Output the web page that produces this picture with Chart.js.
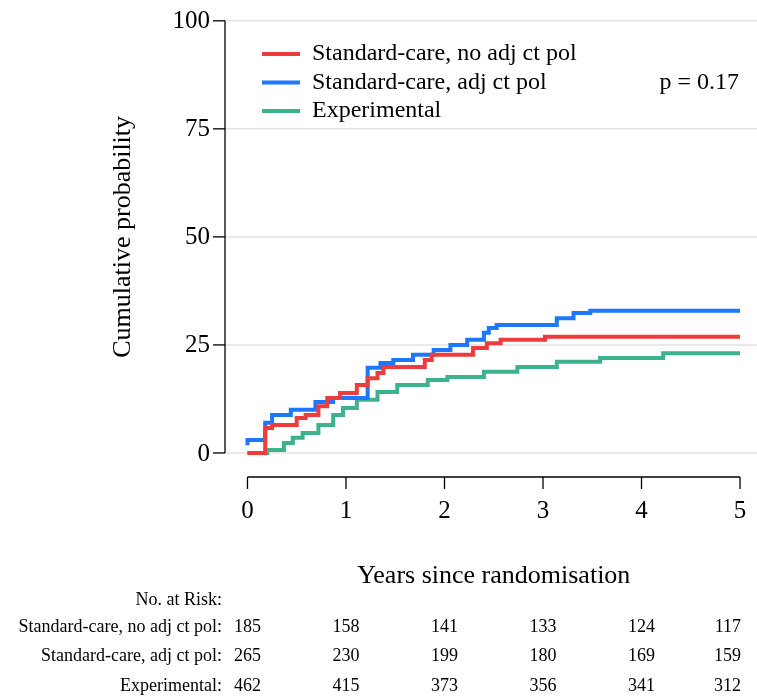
<!DOCTYPE html>
<html><head><meta charset="utf-8">
<script src="https://cdn.jsdelivr.net/npm/chart.js@4"></script>
<style>html,body{margin:0;padding:0;background:#fff}#w{width:757px;height:698px}</style>
</head><body><div id="w"><canvas id="c"></canvas></div>
<script>
const seriesNames = ["Standard-care, no adj ct pol","Standard-care, adj ct pol","Experimental"];
const colors = ["#ee3b3b","#1e78ff","#3cb38c"];
const redT = [0,0.18,0.25,0.5,0.59,0.72,0.81,0.94,1.11,1.22,1.32,1.38,1.80,1.87,2.29,2.43,2.57,3.02,3.78,5];
const redY = [0,0,5.8,6.5,8.1,8.8,10.8,12.7,13.9,15.7,17.3,18.5,19.9,21.5,22.7,24.3,25.4,26.2,26.9,26.9];
const blueT = [0,0.18,0.25,0.44,0.69,0.87,1.22,1.35,1.48,1.68,1.89,2.06,2.23,2.40,2.45,2.53,3.14,3.31,3.48,4.22,5];
const blueY = [1.8,3,7,8.8,10,11.8,12.7,19.7,20.8,21.5,22.7,23.8,25,26.2,27.8,28.9,29.6,31.2,32.4,32.9,32.9];
const greenT = [0,0.2,0.37,0.46,0.56,0.72,0.87,0.97,1.11,1.32,1.52,1.83,2.03,2.40,2.74,3.14,3.58,4.22,4.73,5];
const greenY = [0,0,0.7,2.3,3.5,4.6,6.5,8.8,10.4,12.3,14.1,15.7,16.9,17.6,18.8,19.9,21.1,22,23.1,23.1];
const yTicks = [0,25,50,75,100];
const xTicks = [0,1,2,3,4,5];
const riskTimes = [0,1,2,3,4,5];
const riskLabels = ["Standard-care, no adj ct pol:","Standard-care, adj ct pol:","Experimental:"];
const riskRed = [185,158,141,133,124,117];
const riskBlue = [265,230,199,180,169,159];
const riskGreen = [462,415,373,356,341,312];
const pText = "p = 0.17";

const mk=(t,y)=>t.map((v,i)=>({x:v,y:y[i]}));
const F='"Liberation Serif","DejaVu Serif",serif';
const deco={id:'deco',beforeDatasetsDraw(ch){
  const c=ch.ctx,xs=ch.scales.x,ys=ch.scales.y,a=ch.chartArea;
  c.save();c.strokeStyle='#e3e3e3';c.lineWidth=1.5;
  yTicks.forEach(v=>{const p=ys.getPixelForValue(v);c.beginPath();c.moveTo(a.left,p);c.lineTo(a.right,p);c.stroke();});
  c.restore();
},afterDraw(ch){
  const c=ch.ctx,xs=ch.scales.x,ys=ch.scales.y,a=ch.chartArea;
  c.save();c.strokeStyle='#000';c.lineWidth=1.3;c.fillStyle='#000';
  const yl=a.left;
  c.beginPath();c.moveTo(yl,ys.getPixelForValue(0));c.lineTo(yl,ys.getPixelForValue(100));c.stroke();
  c.font='25px '+F;c.textAlign='right';c.textBaseline='middle';
  yTicks.forEach(v=>{const p=ys.getPixelForValue(v);c.beginPath();c.moveTo(yl-12,p);c.lineTo(yl,p);c.stroke();c.fillText(String(v),yl-15,p+1);});
  const xb=a.bottom;
  c.beginPath();c.moveTo(xs.getPixelForValue(0),xb);c.lineTo(xs.getPixelForValue(5),xb);c.stroke();
  c.textAlign='center';c.textBaseline='top';
  xTicks.forEach(v=>{const p=xs.getPixelForValue(v);c.beginPath();c.moveTo(p,xb);c.lineTo(p,xb+12);c.stroke();c.fillText(String(v),p,xb+22);});
  c.font='26px '+F;c.textBaseline='middle';
  c.fillText('Years since randomisation',(xs.getPixelForValue(0)+xs.getPixelForValue(5))/2,576);
  c.save();c.translate(123,ys.getPixelForValue(50));c.rotate(-Math.PI/2);c.fillText('Cumulative probability',0,0);c.restore();
  c.font='24px '+F;c.textAlign='left';
  seriesNames.forEach((n,i)=>{const y=54+i*28.5;c.strokeStyle=colors[i];c.lineWidth=4;c.beginPath();c.moveTo(262,y);c.lineTo(300,y);c.stroke();c.fillText(n,312,y);});
  c.textAlign='right';c.fillText(pText,739,83);
  c.font='18px '+F;c.fillText('No. at Risk:',222,600);
  [riskRed,riskBlue,riskGreen].forEach((r,i)=>{const y=627+i*29.5;c.textAlign='right';c.fillText(riskLabels[i],222,y);
    r.forEach((v,j)=>{const p=xs.getPixelForValue(riskTimes[j]);if(j===r.length-1){c.textAlign='right';c.fillText(String(v),741,y);}else{c.textAlign='center';c.fillText(String(v),p,y);}});});
  c.restore();
}};
new Chart(document.getElementById('c'),{type:'scatter',
 data:{datasets:[mk(redT,redY),mk(blueT,blueY),mk(greenT,greenY)].map((d,i)=>({label:seriesNames[i],data:d,showLine:true,stepped:'after',borderColor:colors[i],borderWidth:4,pointRadius:0,fill:false}))},
 options:{responsive:true,maintainAspectRatio:false,animation:false,
  layout:{padding:{left:225,right:0,top:10,bottom:221}},
  plugins:{legend:{display:false},tooltip:{enabled:false}},
  scales:{x:{type:'linear',display:false,min:-0.2282,max:5.1724},y:{display:false,min:-5.56,max:102.5}}},
 plugins:[deco]});
</script></body></html>
